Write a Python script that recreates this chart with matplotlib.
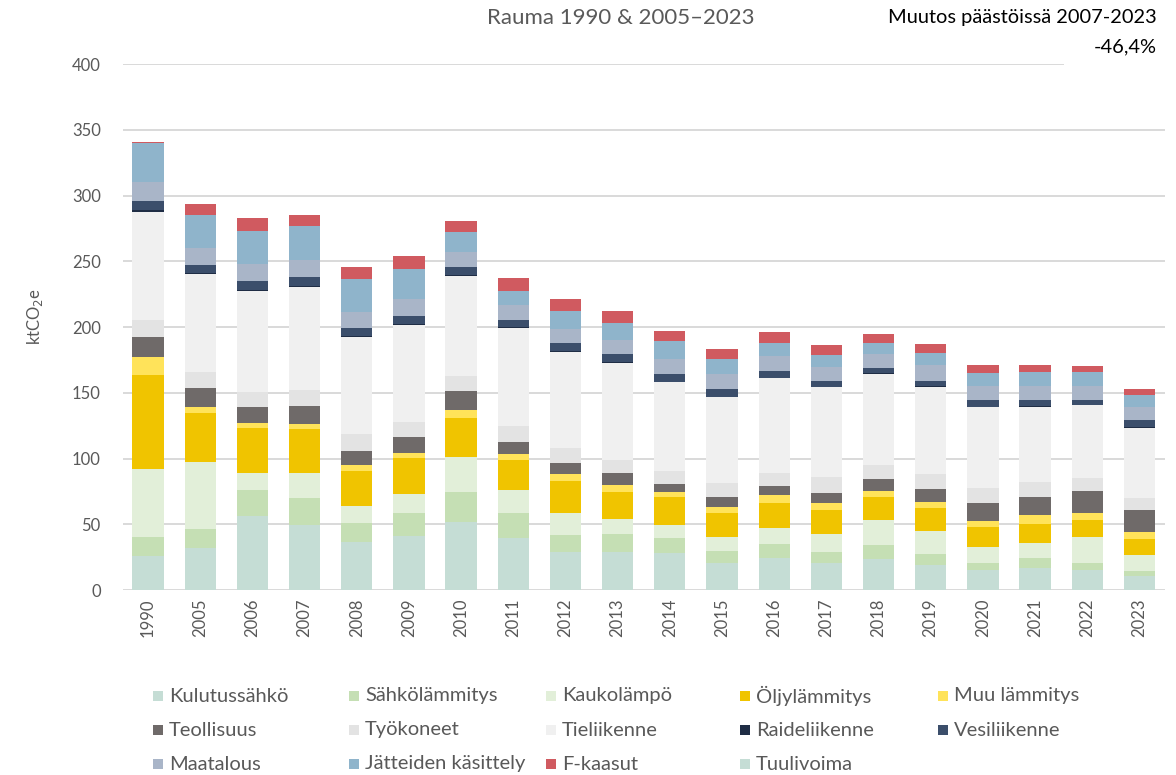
import matplotlib
matplotlib.use('Agg')
import matplotlib.pyplot as plt
from matplotlib.patches import Rectangle
import numpy as np

plt.rcParams['font.family'] = ['Lato', 'DejaVu Sans']

years = ['1990', '2005', '2006', '2007', '2008', '2009', '2010', '2011', '2012', '2013',
         '2014', '2015', '2016', '2017', '2018', '2019', '2020', '2021', '2022', '2023']

kulutussahko = [25.8, 31.7, 56.5, 49.4, 36.7, 41.3, 52.0, 39.3, 28.7, 29.1,
                27.9, 20.3, 24.1, 20.3, 23.8, 19.0, 15.2, 17.0, 15.2, 10.6]
sahkolammitys = [14.2, 14.4, 19.5, 20.3, 14.5, 17.0, 22.3, 19.5, 13.1, 13.5,
                 11.4, 9.6, 10.7, 8.8, 10.1, 8.1, 5.6, 7.1, 5.6, 3.8]
kaukolampo = [51.8, 51.5, 12.7, 19.0, 12.9, 14.7, 27.1, 17.2, 16.5, 11.4,
              10.1, 10.2, 12.1, 13.5, 19.0, 17.7, 12.1, 11.3, 19.7, 11.9]
oljylammitys = [71.7, 37.2, 34.2, 33.5, 26.6, 27.2, 29.6, 22.9, 24.8, 20.8,
                21.1, 18.7, 19.5, 18.2, 18.0, 17.2, 14.9, 15.0, 12.4, 12.7]
muu_lammitys = [13.9, 4.6, 4.3, 4.0, 4.3, 4.2, 5.9, 4.3, 4.9, 5.0,
                4.3, 4.5, 5.8, 5.6, 4.3, 4.8, 4.6, 6.3, 5.3, 5.1]
teollisuus = [14.8, 14.0, 12.2, 13.8, 10.7, 12.2, 14.4, 9.6, 8.3, 9.4,
              5.8, 7.2, 6.9, 7.1, 9.4, 9.7, 13.4, 14.2, 17.0, 16.4]
tyokoneet = [13.1, 12.2, 11.4, 12.1, 12.9, 10.9, 11.7, 12.1, 11.4, 9.7,
             10.1, 10.6, 10.1, 12.2, 10.8, 11.9, 11.4, 11.1, 10.1, 9.1]
tieliikenne = [82.4, 74.7, 76.6, 78.6, 73.6, 74.0, 76.0, 74.1, 73.5, 74.0,
               67.2, 65.4, 71.8, 68.4, 69.2, 66.0, 61.8, 57.2, 55.2, 53.7]
raideliikenne = [1.0, 0.8, 0.8, 0.8, 0.8, 0.7, 0.7, 0.7, 0.7, 0.7,
                 0.6, 0.6, 0.6, 0.6, 0.5, 0.5, 0.5, 0.5, 0.5, 0.5]
vesiliikenne = [7.1, 6.0, 7.0, 6.8, 6.0, 6.2, 5.7, 5.6, 5.7, 5.9,
                5.8, 5.5, 5.2, 4.5, 3.8, 4.3, 4.8, 5.1, 3.8, 5.3]
maatalous = [14.2, 12.8, 12.4, 12.7, 12.7, 12.7, 11.9, 11.4, 10.7, 10.6,
             11.1, 11.4, 11.2, 10.6, 10.8, 11.7, 11.1, 10.6, 10.6, 10.1]
jatteet = [29.7, 25.3, 25.6, 25.8, 24.8, 23.3, 14.7, 10.9, 14.1, 12.7,
           14.0, 11.4, 10.1, 8.9, 8.1, 9.4, 9.7, 10.2, 10.2, 8.9]
f_kaasut = [0.8, 8.3, 9.4, 8.4, 9.4, 9.6, 8.6, 9.4, 8.9, 9.4,
            7.8, 7.9, 7.9, 7.6, 6.9, 6.8, 5.8, 5.3, 4.5, 4.8]
tuulivoima = [0, 0, 0, 0, 0, 0, 0, 0, 0, 0,
              0, 0, 0, 0, 0, 0, 0, 0, 0, 0]

series = [
    ('Kulutussähkö', kulutussahko, '#c5ddd5'),
    ('Sähkölämmitys', sahkolammitys, '#c5dfb4'),
    ('Kaukolämpö', kaukolampo, '#e2efd9'),
    ('Öljylämmitys', oljylammitys, '#f0c400'),
    ('Muu lämmitys', muu_lammitys, '#ffe35a'),
    ('Teollisuus', teollisuus, '#6f6a69'),
    ('Työkoneet', tyokoneet, '#e3e3e3'),
    ('Tieliikenne', tieliikenne, '#f0f0f0'),
    ('Raideliikenne', raideliikenne, '#1f2d45'),
    ('Vesiliikenne', vesiliikenne, '#3b4e6b'),
    ('Maatalous', maatalous, '#a9b5c8'),
    ('Jätteiden käsittely', jatteet, '#8fb4cb'),
    ('F-kaasut', f_kaasut, '#d05a60'),
    ('Tuulivoima', tuulivoima, '#c5ddd5'),
]

grey = '#595959'
W, H = 1176, 775

fig = plt.figure(figsize=(W / 100, H / 100), dpi=100)
ax = fig.add_axes([0.1046, 0.2387, 0.886, 0.6787])

x = np.arange(len(years))
bottom = np.zeros(len(years))
for name, vals, col in series:
    ax.bar(x, vals, 0.6, bottom=bottom, color=col, linewidth=0, zorder=3)
    bottom += np.array(vals)

ax.set_xlim(-0.48, len(years) - 0.51)
ax.set_ylim(0, 400)
yt = [0, 50, 100, 150, 200, 250, 300, 350, 400]
for v in yt:
    ax.axhline(v, xmin=0, xmax=(0.902 if v == 400 else 1), color='#d9d9d9', lw=1.4, zorder=1)
ax.set_yticks(yt)
ax.set_xticks(x)
ax.set_xticklabels(years, rotation=90)
ax.tick_params(axis='both', length=0, colors=grey, labelsize=12)
ax.tick_params(axis='y', pad=16)
ax.tick_params(axis='x', pad=6)
for s in ax.spines.values():
    s.set_visible(False)

fig.text(0.03, 0.592, 'ktCO$_2$e', rotation=90, ha='center', va='center', color=grey, fontsize=12)
fig.text(0.528, 1 - 18 / H, 'Rauma 1990 & 2005\u20132023', ha='center', va='center', color=grey, fontsize=16)
fig.text(1157 / W, 1 - 18 / H, 'Muutos päästöissä 2007-2023', ha='right', va='center', color='black', fontsize=14.4)
fig.text(1157 / W, 1 - 47 / H, '-46,4%', ha='right', va='center', color='black', fontsize=14.4)

# legend drawn by hand: Excel-style fixed column widths, filled row by row
col_x = [153, 349, 546, 740, 938]
row_y = [696, 730, 764]
sq = 10
for i, (name, vals, col) in enumerate(series):
    px = col_x[i % 5]
    py = row_y[i // 5]
    fig.patches.append(Rectangle((px / W, 1 - (py + sq / 2) / H), sq / W, sq / H,
                                 transform=fig.transFigure, facecolor=col, edgecolor='none'))
    fig.text((px + sq + 6) / W, 1 - py / H, name, ha='left', va='center',
             color=grey, fontsize=14.5)

fig.savefig('out.png', dpi=100)
